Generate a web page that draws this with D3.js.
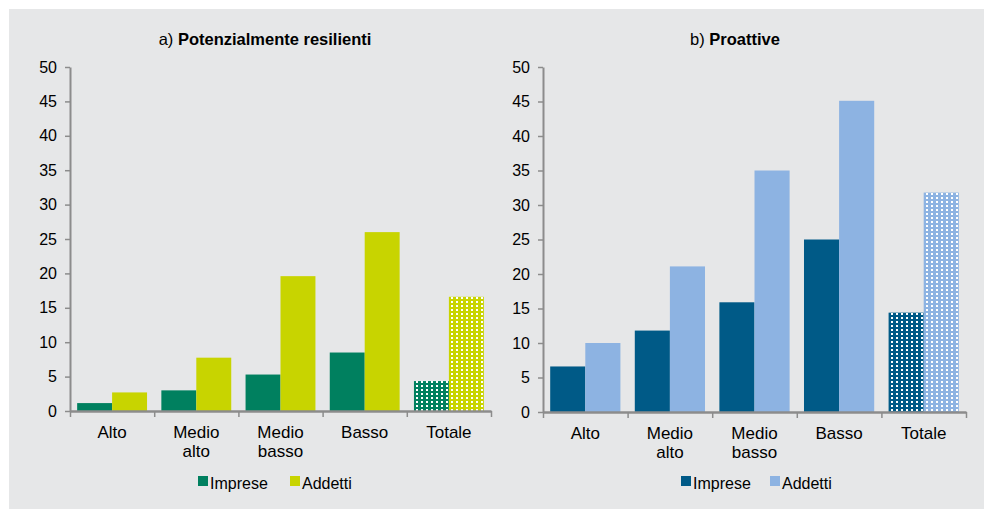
<!DOCTYPE html>
<html><head><meta charset="utf-8">
<script src="https://cdn.jsdelivr.net/npm/d3@7"></script>
<style>body{margin:0;background:#fff;}svg{display:block;font-family:"Liberation Sans",Arial,sans-serif;}</style>
</head><body>
<svg id="c" width="984" height="509"></svg>
<script>
const categories = [["Alto"],["Medio","alto"],["Medio","basso"],["Basso"],["Totale"]];
const seriesNames = ["Imprese","Addetti"];
const resImprese = [1.15, 3.0, 5.3, 8.5, 4.35];
const resAddetti = [2.7, 7.75, 19.6, 26.0, 16.6];
const proImprese = [6.6, 11.8, 15.9, 25.0, 14.4];
const proAddetti = [10.0, 21.1, 35.0, 45.1, 31.8];
const yTicks = [0,5,10,15,20,25,30,35,40,45,50];

const svg = d3.select("#c");
svg.append("rect").attr("x",9).attr("y",9).attr("width",975).attr("height",500).attr("fill","#e6e7e8");
const defs = svg.append("defs");

function makePattern(id, color){
  const p = defs.append("pattern").attr("id",id).attr("patternUnits","userSpaceOnUse")
    .attr("width",5).attr("height",4);
  p.append("rect").attr("width",5).attr("height",4).attr("fill",color);
  p.append("rect").attr("x",1).attr("y",1).attr("width",2).attr("height",2).attr("fill","#fff");
}

const panels = [
  {title:["a) ","Potenzialmente resilienti"], tx:265, x0:70, x1:491, y0:411, y1:67,
   data:[resImprese,resAddetti], colors:["#00805f","#c8d400"], pid:"pa", legX:198, legX2:290},
  {title:["b) ","Proattive"], tx:735, x0:543, x1:966, y0:412, y1:67,
   data:[proImprese,proAddetti], colors:["#005a87","#8db3e2"], pid:"pb", legX:681, legX2:770}
];

panels.forEach((P,pi)=>{
  makePattern(P.pid+"0", P.colors[0]);
  makePattern(P.pid+"1", P.colors[1]);
  const x = d3.scaleBand().domain(d3.range(categories.length)).range([P.x0,P.x1]).paddingInner(0.17).paddingOuter(0.085);
  const sub = d3.scaleBand().domain([0,1]).range([0,x.bandwidth()]);
  const y = d3.scaleLinear().domain([0,50]).range([P.y0,P.y1]);
  const g = svg.append("g");
  // title
  const t = g.append("text").attr("x",P.tx).attr("y",45).attr("text-anchor","middle").attr("font-size",16.5).attr("fill","#000");
  t.append("tspan").text(P.title[0]);
  t.append("tspan").attr("font-weight","bold").text(P.title[1]);
  // bars
  P.data.forEach((vals,si)=>{
    g.selectAll(null).data(vals).enter().append("rect")
      .attr("x",(d,i)=>x(i)+sub(si))
      .attr("y",d=>y(d))
      .attr("width",sub.bandwidth())
      .attr("height",d=>P.y0-y(d))
      .attr("fill",(d,i)=> i===categories.length-1 ? `url(#${P.pid}${si})` : P.colors[si]);
  });
  // y axis
  const ya = g.append("g").attr("transform",`translate(${P.x0},0)`)
    .call(d3.axisLeft(y).tickValues(yTicks).tickSize(5).tickSizeOuter(0).tickPadding(8));
  ya.select(".domain").attr("stroke","#8c8c8c").attr("stroke-width",2);
  ya.selectAll(".tick line").attr("stroke","#8c8c8c").attr("stroke-width",1.5);
  ya.selectAll(".tick text").attr("font-size",16).attr("fill","#000").attr("font-family","Liberation Sans, Arial, sans-serif");
  // x axis
  const xl = d3.scaleLinear().domain([0,categories.length]).range([P.x0,P.x1]);
  const xa = g.append("g").attr("transform",`translate(0,${P.y0})`)
    .call(d3.axisBottom(xl).tickValues(d3.range(categories.length+1)).tickSize(6).tickSizeOuter(0).tickFormat(""));
  xa.select(".domain").attr("stroke","#8c8c8c").attr("stroke-width",2.5);
  xa.selectAll(".tick line").attr("stroke","#8c8c8c").attr("stroke-width",1.5);
  // category labels
  categories.forEach((c,i)=>{
    const cx = x(i)+x.bandwidth()/2;
    const tt = g.append("text").attr("x",cx).attr("y",P.y0+27).attr("text-anchor","middle").attr("font-size",17).attr("fill","#000");
    c.forEach((line,li)=>tt.append("tspan").attr("x",cx).attr("dy",li===0?0:19).text(line));
  });
  // legend
  [P.legX,P.legX2].forEach((lx,si)=>{
    g.append("rect").attr("x",lx).attr("y",476).attr("width",10).attr("height",10).attr("fill",P.colors[si]);
    g.append("text").attr("x",lx+12).attr("y",489).attr("font-size",16).attr("fill","#000").text(seriesNames[si]);
  });
});
</script>
</body></html>
